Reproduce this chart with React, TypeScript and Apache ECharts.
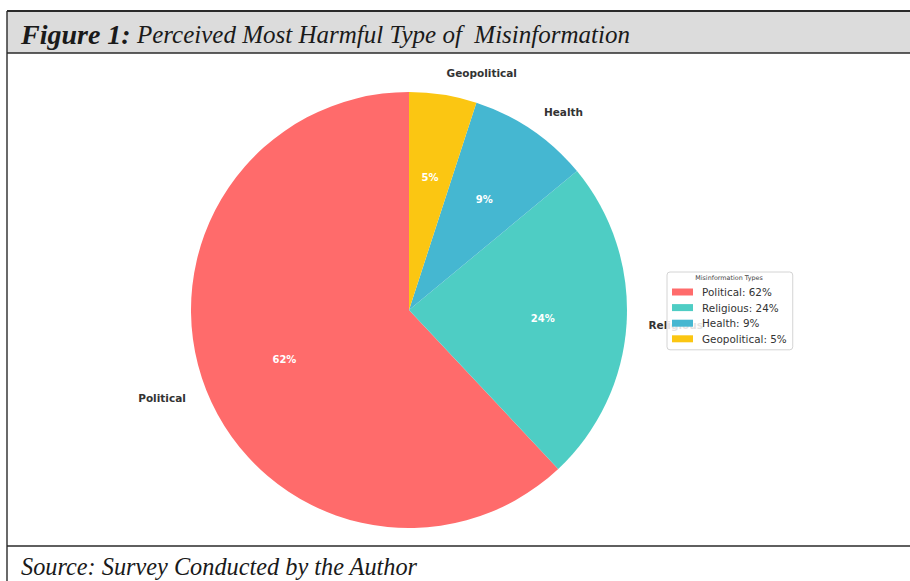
import React, { useEffect, useRef } from "react";
import * as echarts from "echarts";

// Survey shares of the misinformation type judged most harmful
const categories = ["Political", "Religious", "Health", "Geopolitical"];
const shares = [62, 24, 9, 5];

const palette = ["#FF6B6B", "#4ECDC4", "#45B7D1", "#FBC612"];

const figureLabel = "Figure 1:";
const figureTitle = " Perceived Most Harmful Type of  Misinformation";
const sourceNote = "Source: Survey Conducted by the Author";
const legendTitle = "Misinformation Types";

const W = 910;
const H = 581;
const CX = 409;
const CY = 310;
const R = 218;

export default function App() {
  const ref = useRef<HTMLDivElement>(null);

  useEffect(() => {
    if (!ref.current) return;
    const chart = echarts.init(ref.current, undefined, { renderer: "svg" });

    const pieData = categories.map((name, i) => ({
      name,
      value: shares[i],
      itemStyle: { color: palette[i] },
    }));

    const lineColor = "#2a2a2a";

    chart.setOption({
      animation: false,
      backgroundColor: "#ffffff",
      legend: {
        orient: "vertical",
        left: 667,
        top: 272,
        data: categories,
        icon: "rect",
        itemWidth: 21,
        itemHeight: 7,
        itemGap: 3.6,
        padding: [14, 6, 5, 5],
        backgroundColor: "rgba(255,255,255,0.86)",
        borderColor: "#d4d4d4",
        borderWidth: 1,
        borderRadius: 3,
        selectedMode: false,
        z: 10,
        textStyle: {
          fontFamily: "DejaVu Sans",
          fontSize: 10.4,
          lineHeight: 12,
          color: "#333333",
          padding: [0, 0, 0, 4],
        },
        formatter: (name: string) => {
          const i = categories.indexOf(name);
          return `${name}: ${shares[i]}%`;
        },
      },
      graphic: [
        // header band
        {
          type: "rect",
          shape: { x: 7, y: 11, width: W - 7, height: 42 },
          style: { fill: "#dcdcdc" },
          z: 0,
        },
        {
          type: "line",
          shape: { x1: 7, y1: 11, x2: W, y2: 11 },
          style: { stroke: lineColor, lineWidth: 1.8 },
          z: 1,
        },
        {
          type: "line",
          shape: { x1: 7, y1: 53, x2: W, y2: 53 },
          style: { stroke: lineColor, lineWidth: 1.6 },
          z: 1,
        },
        {
          type: "line",
          shape: { x1: 7, y1: 11, x2: 7, y2: H },
          style: { stroke: lineColor, lineWidth: 1.4 },
          z: 1,
        },
        {
          type: "line",
          shape: { x1: 7, y1: 546, x2: W, y2: 546 },
          style: { stroke: lineColor, lineWidth: 1.4 },
          z: 1,
        },
        {
          type: "text",
          x: 21,
          y: 34,
          z: 2,
          style: {
            text: `{b|${figureLabel}}{n|${figureTitle}}`,
            verticalAlign: "middle",
            rich: {
              b: {
                fontFamily: "Liberation Serif",
                fontStyle: "italic",
                fontWeight: "bold",
                fontSize: 28,
                fill: "#1a1a1a",
              },
              n: {
                fontFamily: "Liberation Serif",
                fontStyle: "italic",
                fontSize: 25,
                fill: "#1a1a1a",
              },
            },
          },
        },
        {
          type: "text",
          x: 21,
          y: 566,
          z: 2,
          style: {
            text: sourceNote,
            verticalAlign: "middle",
            fontFamily: "Liberation Serif",
            fontStyle: "italic",
            fontSize: 24.3,
            fill: "#1a1a1a",
          },
        },
        {
          type: "text",
          x: 729,
          y: 278,
          z: 20,
          style: {
            text: legendTitle,
            align: "center",
            verticalAlign: "middle",
            fontFamily: "DejaVu Sans",
            fontSize: 6.4,
            fill: "#444444",
          },
        },
      ],
      series: [
        {
          type: "pie",
          center: [CX, CY],
          radius: [0, R],
          startAngle: 90,
          clockwise: false,
          avoidLabelOverlap: false,
          silent: true,
          emphasis: { disabled: true },
          data: pieData,
          label: {
            show: true,
            position: "outside",
            formatter: "{b}",
            fontFamily: "DejaVu Sans",
            fontWeight: "bold",
            fontSize: 10.5,
            color: "#333333",
            distanceToLabelLine: 0,
          },
          labelLine: { show: false, length: 22, length2: 0 },
        },
        {
          // transparent ring whose mid-radius sits at 0.6 R for the percent labels
          type: "pie",
          center: [CX, CY],
          radius: [44, R],
          startAngle: 90,
          clockwise: false,
          avoidLabelOverlap: false,
          silent: true,
          emphasis: { disabled: true },
          data: categories.map((name, i) => ({
            name,
            value: shares[i],
            itemStyle: { color: "rgba(0,0,0,0)" },
          })),
          label: {
            show: true,
            position: "inside",
            formatter: (p: any) => `${p.value}%`,
            fontFamily: "DejaVu Sans",
            fontWeight: "bold",
            fontSize: 10,
            color: "#ffffff",
          },
          labelLine: { show: false },
        },
      ],
    });

    return () => chart.dispose();
  }, []);

  return (
    <div
      ref={ref}
      style={{ position: "fixed", left: 0, top: 0, width: W, height: H }}
    />
  );
}
